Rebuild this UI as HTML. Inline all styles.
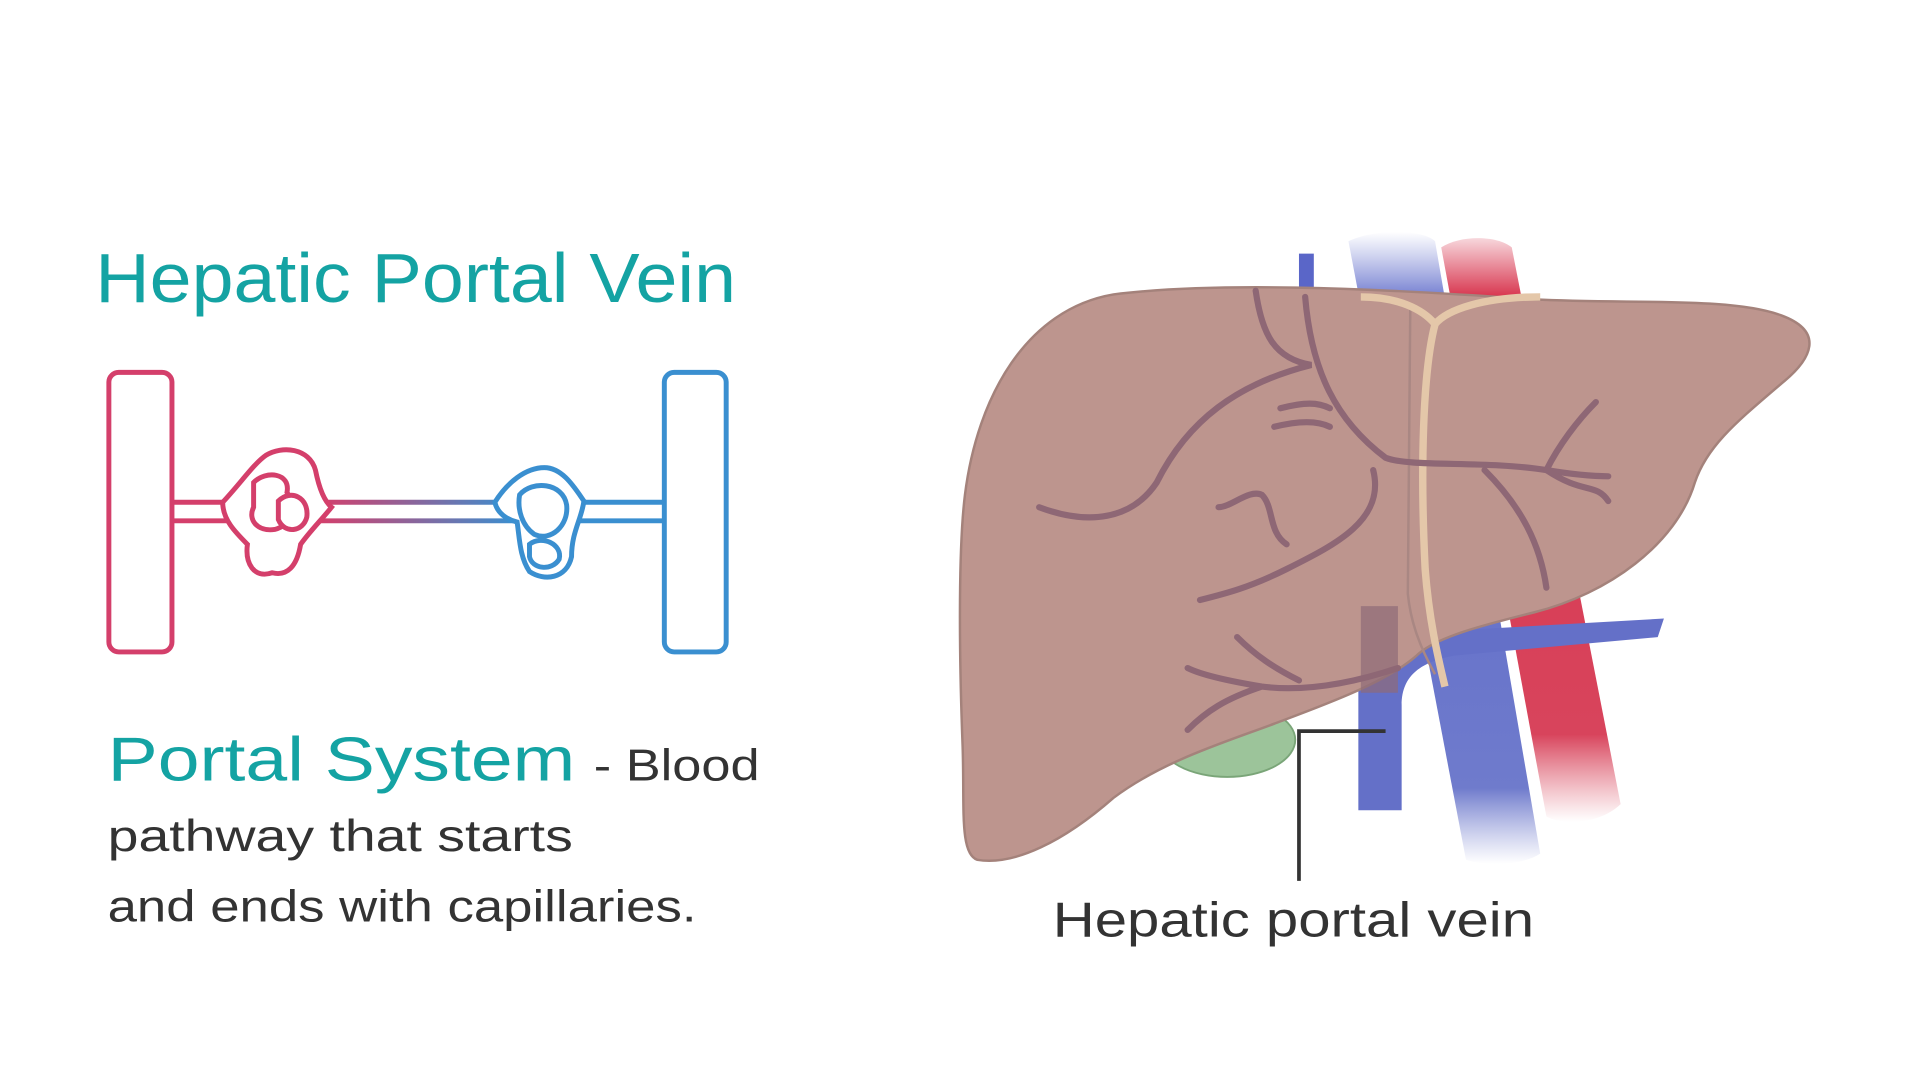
<!DOCTYPE html>
<html><head><meta charset="utf-8"><style>
html,body{margin:0;padding:0;background:#fff;width:1920px;height:1080px;overflow:hidden}
svg{display:block}
text{font-family:"Liberation Sans",sans-serif}
</style></head><body>
<svg width="1920" height="1080" viewBox="0 0 1552 873" xmlns="http://www.w3.org/2000/svg">
<defs>
<linearGradient id="tube" x1="139" y1="0" x2="536" y2="0" gradientUnits="userSpaceOnUse">
<stop offset="0.3" stop-color="#d43f6b"/><stop offset="0.7" stop-color="#3a8fd0"/></linearGradient>
<linearGradient id="fadeB" x1="0" y1="0" x2="0" y2="1"><stop offset="0" stop-color="#6d7ad0" stop-opacity="0"/><stop offset="0.12" stop-color="#5a66c8"/><stop offset="0.88" stop-color="#6f7bcc"/><stop offset="1" stop-color="#8a93d6" stop-opacity="0"/></linearGradient>
<linearGradient id="fadeR" x1="0" y1="0" x2="0" y2="1"><stop offset="0" stop-color="#d8364f" stop-opacity="0.2"/><stop offset="0.1" stop-color="#d8364f"/><stop offset="0.85" stop-color="#d8445c"/><stop offset="1" stop-color="#e06a7a" stop-opacity="0"/></linearGradient>
</defs>
<text x="77" y="244" font-size="56" fill="#14a3a3" textLength="518" lengthAdjust="spacingAndGlyphs">Hepatic Portal Vein</text>
<rect x="88" y="301" width="51" height="226" rx="8" fill="none" stroke="#d43f6b" stroke-width="4"/>
<rect x="537" y="301" width="50" height="226" rx="8" fill="none" stroke="#3a8fd0" stroke-width="4"/>
<path d="M139 406 H536 M139 421 H536" stroke="url(#tube)" stroke-width="4" fill="none"/>
<g fill="#fff" stroke="#d43f6b" stroke-width="4">
<path d="M180 406 C195 390 205 375 215 368 C228 360 250 362 255 380 C258 395 262 405 268 410 C260 420 250 430 243 440 C240 458 232 466 220 463 C205 468 198 455 200 440 C190 430 180 420 180 406Z"/>
<path d="M205 390 C215 380 235 382 232 398 C240 410 235 425 222 428 C208 430 200 420 205 410Z"/>
<path d="M225 405 C235 395 250 402 248 418 C245 430 230 432 225 420Z"/>
</g>
<g fill="#fff" stroke="#3a8fd0" stroke-width="4">
<path d="M400 406 C410 390 425 378 440 378 C455 378 465 395 472 405 C470 420 462 430 462 450 C458 468 440 470 428 462 C420 450 420 435 418 422 C410 420 402 415 400 406Z"/>
<path d="M420 400 C430 388 455 390 458 408 C460 425 445 438 432 432 C422 425 418 412 420 400Z"/>
<path d="M428 440 C438 432 455 440 452 452 C446 462 430 460 428 450Z"/>
</g>
<text x="87" y="631" font-size="50" fill="#14a3a3" textLength="378" lengthAdjust="spacingAndGlyphs">Portal System</text>
<text x="480" y="631" font-size="36" fill="#333" textLength="134" lengthAdjust="spacingAndGlyphs">- Blood</text>
<text x="87" y="688" font-size="36" fill="#333" textLength="376" lengthAdjust="spacingAndGlyphs">pathway that starts</text>
<text x="87" y="745" font-size="36" fill="#333" textLength="476" lengthAdjust="spacingAndGlyphs">and ends with capillaries.</text>
<path d="M1165 200 C1180 190 1210 190 1222 200 L1310 650 C1295 665 1265 668 1250 660 Z" fill="url(#fadeR)"/>
<path d="M1090 195 C1110 185 1150 185 1160 195 L1245 690 C1230 700 1200 700 1185 695 Z" fill="url(#fadeB)"/>
<path d="M1050 205 L1062 205 L1062 300 L1050 300 Z" fill="#5a66c8"/>
<path d="M1098 500 L1098 655 L1133 655 L1133 570 C1133 545 1150 535 1175 530 L1340 515 L1345 500 L1170 510 C1140 515 1125 520 1120 500 Z" fill="#6470c8"/>
<ellipse cx="992" cy="598" rx="55" ry="30" fill="#9cc49a" stroke="#7aa578" stroke-width="1.5"/>
<path d="M900 238 C980 228 1100 232 1240 242 C1320 246 1400 240 1440 255 C1475 268 1465 290 1440 310 C1405 340 1380 360 1370 390 C1355 440 1300 480 1240 495 C1200 505 1160 515 1145 530 C1120 552 1070 570 1030 585 C990 600 940 615 900 645 C860 680 820 700 790 695 C775 690 780 650 778 600 C775 520 775 440 780 400 C790 320 830 250 900 238Z" fill="#bd958e" stroke="#a4827b" stroke-width="2"/>
<path d="M1140 245 L1138 480 C1140 500 1146 520 1160 545" stroke="#a98783" stroke-width="2" fill="none"/>
<path d="M1100 240 C1130 240 1150 250 1160 262 C1170 250 1200 240 1245 240 M1160 262 C1150 300 1148 380 1152 460 C1155 500 1162 530 1168 555" stroke="#e4c7a9" stroke-width="6" fill="none"/>
<path d="M1100 490 H1130 V560 H1100Z" fill="#8e6b78" opacity="0.7"/>
<g stroke="#8e6775" stroke-width="5" fill="none" stroke-linecap="round">
<path d="M1055 240 C1060 300 1080 340 1120 370 C1140 378 1200 372 1250 380 C1280 385 1295 385 1300 385"/>
<path d="M1015 235 C1020 270 1030 290 1060 295 C1000 310 960 340 935 390 C915 420 880 425 840 410"/>
<path d="M1110 380 C1120 420 1080 440 1040 460 C1010 475 990 480 970 485"/>
<path d="M1040 440 C1025 430 1030 410 1020 400 C1010 395 995 410 985 410"/>
<path d="M1250 380 C1260 360 1275 340 1290 325 M1250 380 C1280 400 1290 390 1300 405 M1200 380 C1230 410 1245 440 1250 475"/>
<path d="M1130 540 C1100 550 1060 560 1020 555 C990 550 970 545 960 540 M1020 555 C990 565 975 575 960 590 M1050 550 C1030 540 1015 530 1000 515"/>
<path d="M1035 330 C1055 325 1065 325 1075 330 M1030 345 C1050 340 1065 340 1075 345"/>
</g>
<path d="M1120 591 H1050 V712" stroke="#333" stroke-width="3" fill="none"/>
<text x="851" y="757" font-size="40" fill="#333" textLength="389" lengthAdjust="spacingAndGlyphs">Hepatic portal vein</text>
</svg>
</body></html>
